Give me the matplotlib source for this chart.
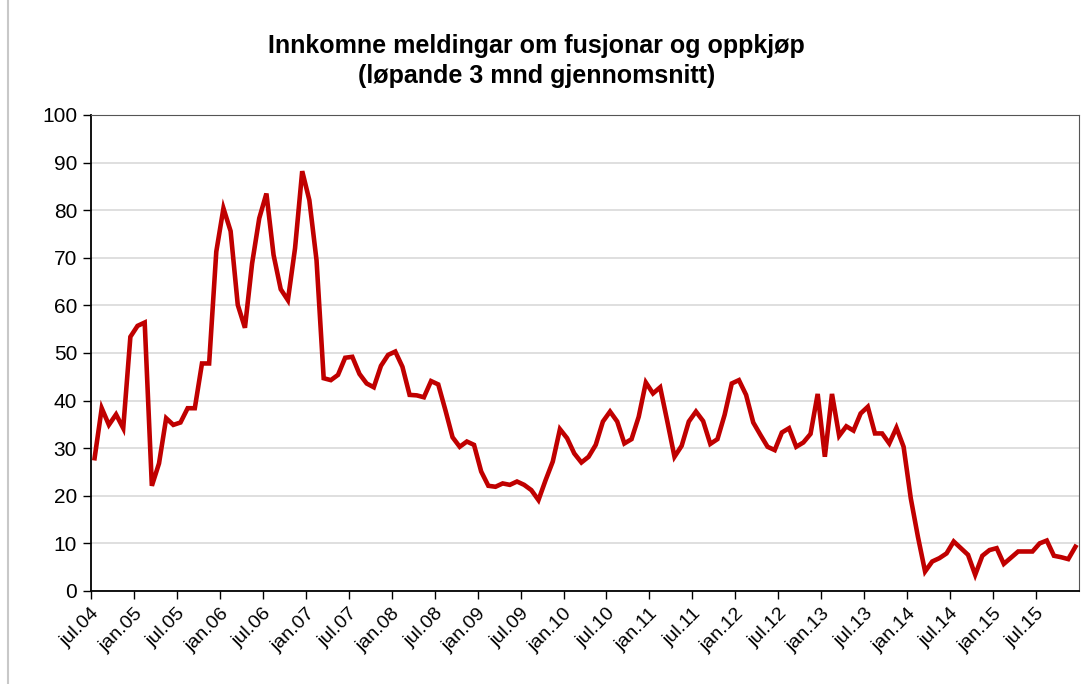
import matplotlib.pyplot as plt
import numpy as np
from matplotlib.lines import Line2D

plt.rcParams['font.family'] = ['Liberation Sans', 'DejaVu Sans']

# Løpande 3 mnd gjennomsnitt, månadleg frå jul.04 til des.15
verdiar = [
    27.9, 38.4, 34.9, 37.1, 34.2, 53.4, 55.7, 56.4, 22.1, 26.8, 36.3, 34.9,
    35.4, 38.4, 38.4, 47.8, 47.8, 71.3, 80.4, 75.6, 60.1, 55.3, 68.8, 78.3,
    83.5, 70.6, 63.4, 61.1, 72.0, 88.2, 82.1, 69.5, 44.7, 44.3, 45.4, 49.0,
    49.2, 45.6, 43.6, 42.8, 47.3, 49.6, 50.3, 47.1, 41.2, 41.1, 40.7, 44.1,
    43.4, 38.0, 32.3, 30.3, 31.4, 30.7, 25.1, 22.1, 21.9, 22.6, 22.3, 23.0,
    22.3, 21.2, 19.1, 23.3, 27.2, 34.0, 32.1, 28.9, 27.0, 28.2, 30.7, 35.6,
    37.7, 35.6, 31.0, 31.9, 36.6, 43.8, 41.5, 42.8, 35.6, 28.2, 30.5, 35.6,
    37.7, 35.7, 30.9, 31.9, 37.0, 43.6, 44.3, 41.2, 35.4, 32.8, 30.3, 29.6,
    33.3, 34.2, 30.3, 31.2, 33.0, 41.4, 28.2, 41.4, 32.6, 34.6, 33.7, 37.3,
    38.7, 33.1, 33.1, 31.0, 34.3, 30.3, 19.5, 11.4, 4.1, 6.2, 6.9, 7.9,
    10.4, 9.0, 7.6, 3.4, 7.4, 8.6, 9.0, 5.7, 7.0, 8.3, 8.3, 8.3,
    10.0, 10.6, 7.4, 7.1, 6.7, 9.3,
]

tick_tekst = ['jul.04', 'jan.05', 'jul.05', 'jan.06', 'jul.06', 'jan.07',
              'jul.07', 'jan.08', 'jul.08', 'jan.09', 'jul.09', 'jan.10',
              'jul.10', 'jan.11', 'jul.11', 'jan.12', 'jul.12', 'jan.13',
              'jul.13', 'jan.14', 'jul.14', 'jan.15', 'jul.15']

n = len(verdiar)
x = np.arange(n) + 0.5

fig = plt.figure(figsize=(10.88, 6.84), dpi=100)
ax = fig.add_axes([91 / 1088, 1 - 591 / 684, 988 / 1088, 476 / 684])

ax.plot(x, verdiar, color='#C00000', lw=3.3, solid_joinstyle='miter', zorder=3)

ax.set_xlim(0, n)
ax.set_ylim(0, 100)
ax.set_yticks(range(0, 101, 10))
ax.set_xticks(np.arange(len(tick_tekst)) * 6)
ax.set_xticklabels(tick_tekst, rotation=45, ha='right', rotation_mode='anchor',
                   fontsize=14)
ax.tick_params(axis='y', labelsize=15, length=6, width=1, pad=4)
ax.tick_params(axis='x', length=6, width=1, pad=4)

ax.grid(axis='y', color='#d9d9d9', lw=1.2, zorder=0)
ax.set_axisbelow(True)

ax.spines['left'].set_color('black')
ax.spines['bottom'].set_color('black')
ax.spines['left'].set_linewidth(1.3)
ax.spines['bottom'].set_linewidth(1.3)
ax.spines['top'].set_color('#555555')
ax.spines['right'].set_color('#555555')

fig.text(0.493, 1 - 46 / 684, 'Innkomne meldingar om fusjonar og oppkjøp',
         ha='center', va='center', fontsize=18, fontweight='bold')
fig.text(0.493, 1 - 76 / 684, '(løpande 3 mnd gjennomsnitt)',
         ha='center', va='center', fontsize=18, fontweight='bold')

# ramme til venstre, som i originalen
fig.add_artist(Line2D([8 / 1088, 8 / 1088], [0, 1], color='#c8c8c8', lw=1.5))

fig.savefig('out.png', dpi=100)
